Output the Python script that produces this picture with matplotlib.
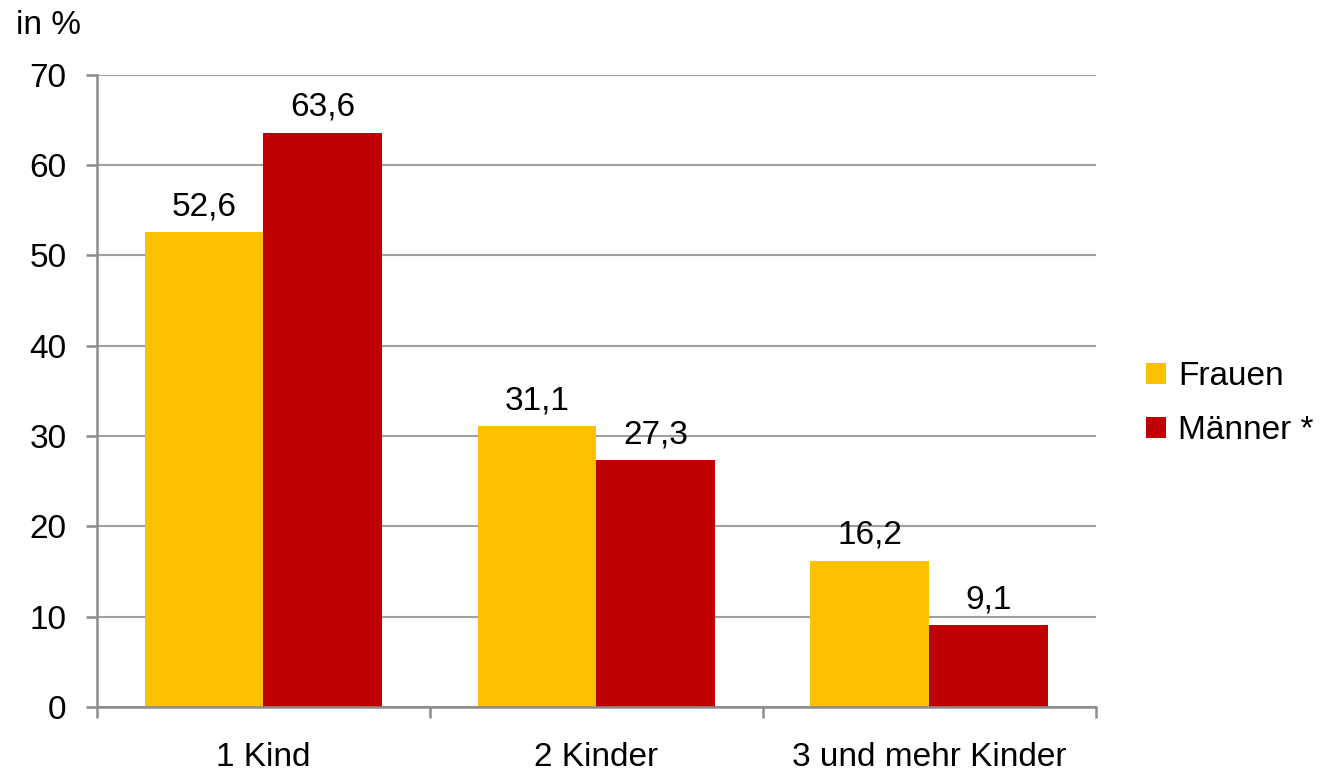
import numpy as np
import matplotlib.pyplot as plt
from matplotlib.ticker import FixedLocator

plt.rcParams['font.family'] = ['Liberation Sans', 'DejaVu Sans']

categories = ['1 Kind', '2 Kinder', '3 und mehr Kinder']
frauen = [52.6, 31.1, 16.2]
maenner = [63.6, 27.3, 9.1]
series_names = ['Frauen', 'Männer *']
colors = ['#FFC000', '#C00000']
yticks = [0, 10, 20, 30, 40, 50, 60, 70]

fs = 24

fig = plt.figure(figsize=(13.23, 7.74), dpi=100)
ax = fig.add_axes([0.0733, 0.0866, 0.755, 0.8167])

x = np.arange(len(categories))
w = 0.357
b1 = ax.bar(x - w / 2, frauen, w, color=colors[0], label=series_names[0], zorder=3)
b2 = ax.bar(x + w / 2, maenner, w, color=colors[1], label=series_names[1], zorder=3)

# Werte ueber die Balken schreiben
for bars, vals in [(b1, frauen), (b2, maenner)]:
    for rect, v in zip(bars, vals):
        ax.annotate(f'{v:.1f}'.replace('.', ','),
                    (rect.get_x() + rect.get_width() / 2, v),
                    xytext=(0, 7), textcoords='offset points',
                    ha='center', va='bottom', fontsize=fs)

ax.set_xlim(-0.5, len(categories) - 0.5)
ax.set_ylim(0, 70)
ax.set_yticks(yticks)
ax.set_xticks(x)
ax.set_xticklabels(categories)
ax.xaxis.set_minor_locator(FixedLocator(np.arange(-0.5, len(categories), 1.0)))

ax.grid(axis='y', color='#A0A0A0', linewidth=1.5, zorder=0)
for s in ['top', 'right']:
    ax.spines[s].set_visible(False)
for s in ['left', 'bottom']:
    ax.spines[s].set_color('#8C8C8C')
    ax.spines[s].set_linewidth(1.8)
    ax.spines[s].set_zorder(4)

ax.tick_params(axis='y', which='major', length=8, width=1.8, color='#8C8C8C',
               labelsize=fs, pad=14)
ax.tick_params(axis='x', which='major', length=0, labelsize=fs, pad=25)
ax.tick_params(axis='x', which='minor', length=8, width=1.8, color='#8C8C8C')

fig.text(0.012, 0.967, 'in %', fontsize=fs, ha='left', va='center')

ax.legend(loc='center left', bbox_to_anchor=(1.037, 0.48), frameon=False,
          fontsize=fs, handlelength=0.6, handleheight=0.6,
          handletextpad=0.35, labelspacing=0.7, borderaxespad=0)

fig.savefig('out.png', dpi=100)
